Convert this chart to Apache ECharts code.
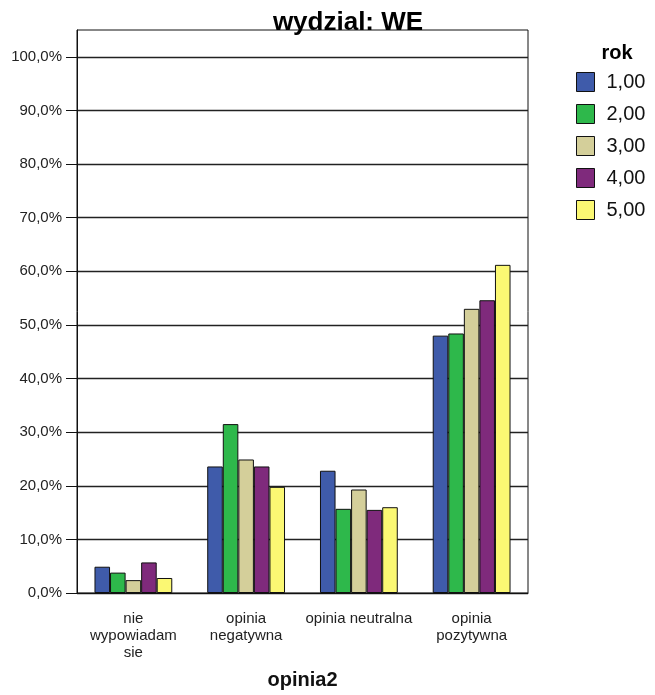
<!DOCTYPE html>
<html>
<head>
<meta charset="utf-8">
<script src="https://cdn.jsdelivr.net/npm/echarts@6/dist/echarts.min.js"></script>
<style>
html,body{margin:0;padding:0;background:#fff;}
#chart{width:655px;height:695px;}
</style>
</head>
<body>
<div id="chart"></div>
<script>
var categories = ['nie\nwypowiadam\nsie', 'opinia\nnegatywna', 'opinia neutralna', 'opinia\npozytywna'];
var seriesNames = ['1,00', '2,00', '3,00', '4,00', '5,00'];
var rok1 = [4.9, 23.6, 22.8, 48.0];
var rok2 = [3.8, 31.5, 15.7, 48.4];
var rok3 = [2.4, 24.9, 19.3, 53.0];
var rok4 = [5.7, 23.6, 15.5, 54.6];
var rok5 = [2.8, 19.8, 16.0, 61.2];
var yTicks = [0, 10, 20, 30, 40, 50, 60, 70, 80, 90, 100];
var colors = ['#3f5baa', '#2eb84b', '#d4cf9a', '#7f2a7c', '#fbf873'];

var allValues = [rok1, rok2, rok3, rok4, rok5];
var font = 'Liberation Sans, Arial, sans-serif';

var series = seriesNames.map(function (n, i) {
  return {
    name: n,
    type: 'bar',
    data: allValues[i],
    barGap: '0%',
    barCategoryGap: '31%',
    itemStyle: { color: colors[i], borderColor: '#111', borderWidth: 1 }
  };
});

var chart = echarts.init(document.getElementById('chart'), null, { renderer: 'canvas' });
chart.setOption({
  animation: false,
  color: colors,
  title: [
    { text: 'wydzial: WE', left: 343, top: 5, textAlign: 'center',
      textStyle: { fontFamily: font, fontWeight: 'bold', fontSize: 26, color: '#000' } },
    { text: 'rok', left: 612, top: 38, textAlign: 'center',
      textStyle: { fontFamily: font, fontWeight: 'bold', fontSize: 20, color: '#000' } }
  ],
  legend: {
    orient: 'vertical',
    left: 571,
    top: 67,
    itemWidth: 18,
    itemHeight: 19,
    itemGap: 12,
    icon: 'rect',
    data: seriesNames,
    textStyle: { fontFamily: font, fontSize: 20, color: '#111', padding: [0, 0, 0, 7] },
    itemStyle: { borderColor: '#111', borderWidth: 1 }
  },
  grid: {
    left: 77, right: 127, top: 30, bottom: 102,
    show: true, borderColor: '#111', borderWidth: 1, backgroundColor: 'transparent'
  },
  xAxis: {
    type: 'category',
    data: categories,
    name: 'opinia2',
    nameLocation: 'middle',
    nameGap: 77,
    nameTextStyle: { fontFamily: font, fontWeight: 'bold', fontSize: 20, color: '#111' },
    axisLine: { lineStyle: { color: '#111', width: 1 } },
    axisTick: { alignWithLabel: true, length: 12, lineStyle: { color: '#111' } },
    axisLabel: { fontFamily: font, fontSize: 15, color: '#222', lineHeight: 17, margin: 17, interval: 0 }
  },
  yAxis: {
    type: 'value',
    min: 0, max: 105, interval: 10,
    axisLine: { show: true, lineStyle: { color: '#111', width: 1 } },
    axisTick: { show: true, length: 11, lineStyle: { color: '#111' }, customValues: yTicks },
    axisLabel: {
      fontFamily: font, fontSize: 15, color: '#222', margin: 15,
      customValues: yTicks,
      formatter: function (v) { return v > 100 ? '' : v.toFixed(1).replace('.', ',') + '%'; }
    },
    splitLine: { show: true, lineStyle: { color: '#222', width: 1.3 } }
  },
  series: series
});
</script>
</body>
</html>
